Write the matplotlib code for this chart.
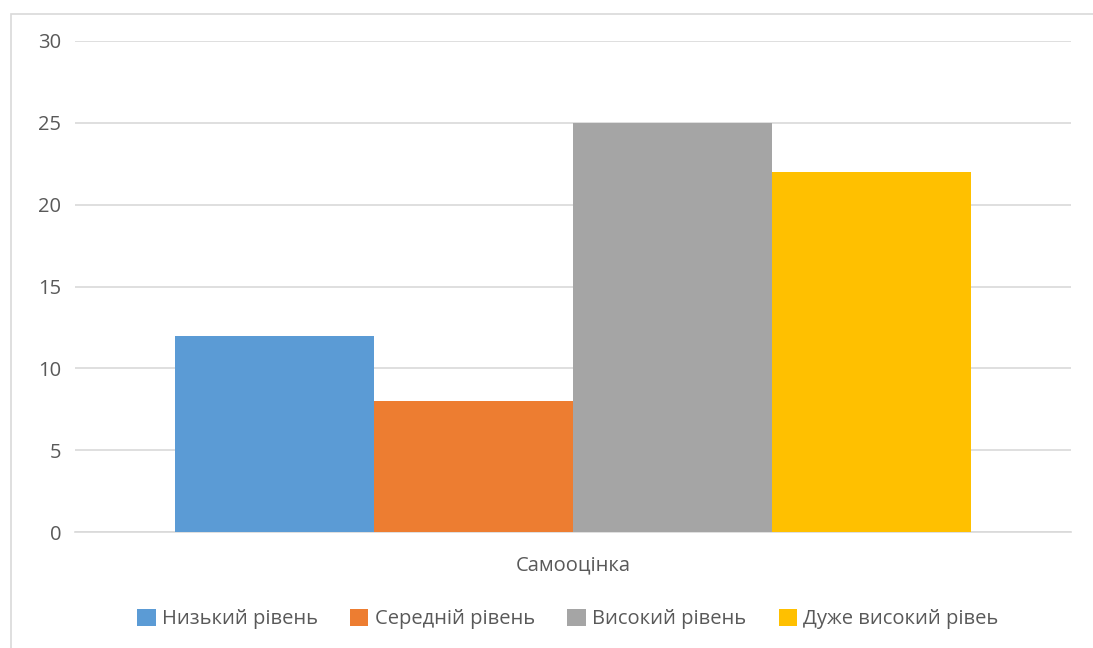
import matplotlib
matplotlib.use("Agg")
import matplotlib.pyplot as plt
from matplotlib.patches import Rectangle

plt.rcParams['font.family'] = ['Open Sans', 'DejaVu Sans']

category = "Самооцінка"
series_names = ["Низький рівень", "Середній рівень", "Високий рівень", "Дуже високий рівеь"]
values = [12, 8, 25, 22]
colors = ["#5B9BD5", "#ED7D31", "#A5A5A5", "#FFC000"]
yticks = [0, 5, 10, 15, 20, 25, 30]

fig = plt.figure(figsize=(10.93, 6.48), dpi=100)
fig.patch.set_facecolor("white")
fig.add_artist(Rectangle((11/1093, -0.1), 1.2, (648-14)/648 + 0.1, transform=fig.transFigure,
                         fill=False, edgecolor="#D9D9D9", linewidth=1.2))

ax = fig.add_axes([75/1093, (648-532)/648, (1071-75)/1093, (532-41)/648])
w = 0.2
n = len(values)
handles = []
for i, (name, v, c) in enumerate(zip(series_names, values, colors)):
    x = (i - (n - 1) / 2) * w
    h = ax.bar(x, v, width=w, color=c, label=name, zorder=3)
    handles.append(h)

ax.set_xlim(-0.5, 0.5)
ax.set_ylim(0, 30)
ax.set_yticks(yticks)
ax.set_yticklabels([str(t) for t in yticks])
ax.set_xticks([0])
ax.set_xticklabels([category])
ax.tick_params(axis='both', length=0, labelsize=14.5, labelcolor="#595959")
ax.tick_params(axis='y', pad=10)
ax.tick_params(axis='x', pad=16.5)
ax.grid(axis='y', color="#D9D9D9", linewidth=1.2, zorder=0)
for s in ["top", "right", "left"]:
    ax.spines[s].set_visible(False)
ax.spines["bottom"].set_color("#D9D9D9")
ax.spines["bottom"].set_linewidth(1.2)

leg = fig.legend(handles=handles, labels=series_names, loc="center", bbox_to_anchor=(568/1093, (648-619)/648),
                 ncol=4, frameon=False, fontsize=14.5, handlelength=0.9, handleheight=0.9,
                 handletextpad=0.33, columnspacing=1.6, labelcolor="#595959")

fig.savefig("out.png", dpi=100, facecolor="white")
